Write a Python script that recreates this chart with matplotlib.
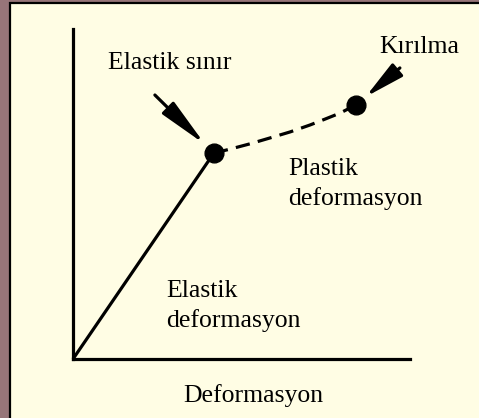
import matplotlib.pyplot as plt
from matplotlib.patches import Rectangle

# renkler
mauve = '#977579'
cream = '#FFFDE4'

# veri (keyfi birimler, eksen 0-10)
elastic_strain = [0.0, 4.18]
elastic_stress = [0.0, 6.24]
plastic_strain = [4.18, 4.66, 5.25, 5.85, 6.44, 7.03, 7.48, 7.92, 8.40]
plastic_stress = [6.24, 6.36, 6.52, 6.70, 6.88, 7.09, 7.27, 7.45, 7.70]
points_strain = [4.18, 8.40]      # elastik sinir, kirilma
points_stress = [6.24, 7.70]
arrow_tails = [(2.43, 8.00), (9.70, 8.82)]

# metinler (piksel konumu: sol, taban cizgisi)
labels = ['Elastik sınır', 'Kırılma', 'Plastik', 'deformasyon',
          'Elastik', 'deformasyon', 'Deformasyon']
label_pos = [(108, 69), (379, 53), (288, 175), (288, 205),
             (166, 297), (166, 327), (183, 402)]

W, H = 479, 418
fig = plt.figure(figsize=(W / 100, H / 100), dpi=100, facecolor=mauve)

# arka plan paneli
bg = fig.add_axes([0, 0, 1, 1])
bg.set_xlim(0, W)
bg.set_ylim(H, 0)
bg.axis('off')
bg.add_patch(Rectangle((10, 3), W + 20, H + 20, facecolor=cream,
                       edgecolor='black', lw=1.6))

for txt, (x, y) in zip(labels, label_pos):
    bg.text(x, y, txt, fontsize=18.5, family='Liberation Serif',
            ha='left', va='baseline', color='black')

# grafik
ax = fig.add_axes([73 / W, (H - 359) / H, (410 - 73) / W, (359 - 29) / H])
ax.patch.set_alpha(0)
ax.set_xlim(0, 10)
ax.set_ylim(0, 10)
for s in ['top', 'right']:
    ax.spines[s].set_visible(False)
for s in ['left', 'bottom']:
    ax.spines[s].set_linewidth(2.3)
ax.set_xticks([])
ax.set_yticks([])

ax.plot(elastic_strain, elastic_stress, color='black', lw=2.3,
        solid_capstyle='butt', clip_on=False)
ax.plot(plastic_strain, plastic_stress, color='black', lw=2.3,
        dashes=(4.5, 2.6), clip_on=False)
ax.plot(points_strain, points_stress, 'o', color='black', ms=13.5,
        clip_on=False, zorder=5)

# oklar
heads = ['-|>,head_length=3.0,head_width=0.5',
         '-|>,head_length=2.4,head_width=0.5']
for (tx, ty), px, py, hs in zip(arrow_tails, points_strain, points_stress, heads):
    ax.annotate('', xy=(px, py), xytext=(tx, ty),
                arrowprops=dict(arrowstyle=hs, mutation_scale=10, lw=2.3,
                                fc='black', ec='black', shrinkA=0, shrinkB=9),
                annotation_clip=False)

fig.savefig('out.png', dpi=100, facecolor=mauve)
